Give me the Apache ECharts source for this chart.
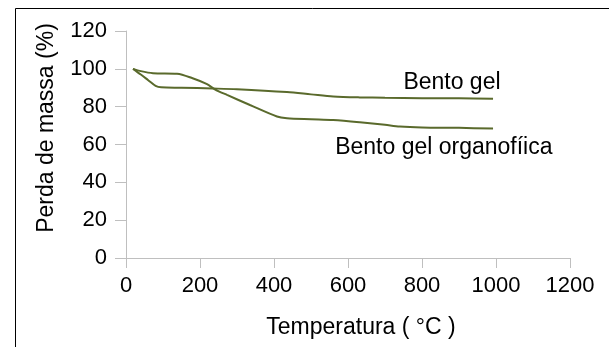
<!DOCTYPE html>
<html>
<head>
<meta charset="utf-8">
<script src="https://cdn.jsdelivr.net/npm/echarts@6/dist/echarts.min.js"></script>
<style>html,body{margin:0;padding:0;background:#fff;}#c{width:609px;height:347px;}</style>
</head>
<body>
<div id="c"></div>
<script>
var bentoGelT   = [19, 40, 60, 80, 95, 150, 235, 300, 435, 500, 560, 632, 700, 800, 900, 992];
var bentoGelV   = [100, 97, 94, 91, 90.2, 90, 89.6, 89.2, 87.7, 86.5, 85.4, 84.9, 84.7, 84.5, 84.4, 84.2];
var organoT     = [19, 40, 73, 138, 180, 219, 240, 273, 335, 408, 435, 500, 560, 632, 700, 740, 800, 900, 992];
var organoV     = [100, 98.8, 97.7, 97.4, 95, 91.9, 89.2, 86.2, 80.9, 74.8, 73.9, 73.4, 73, 71.8, 70.4, 69.5, 69, 68.8, 68.4];
var xTicks = [0, 200, 400, 600, 800, 1000, 1200];
var yTicks = [0, 20, 40, 60, 80, 100, 120];
var seriesNames = ['Bento gel', 'Bento gel organofíica'];
var labelPos = [[881, 92.6], [859, 58.2]];

function pairs(t, v) { return t.map(function (x, i) { return [x, v[i]]; }); }

var FONT = 'Liberation Sans';
var lineColor = '#5a6a2c';
var chart = echarts.init(document.getElementById('c'));
chart.setOption({
  animation: false,
  grid: { left: 126, right: 39, top: 31, bottom: 89 },
  xAxis: {
    type: 'value', min: xTicks[0], max: xTicks[xTicks.length - 1], interval: 200,
    splitLine: { show: false },
    axisLine: { show: true, lineStyle: { color: '#bfbfbf', width: 1 } },
    axisTick: { show: true, length: 10, lineStyle: { color: '#bfbfbf' } },
    axisLabel: { color: '#000', fontFamily: FONT, fontSize: 22, margin: 17, formatter: function (v) { return String(v); } }
  },
  yAxis: {
    type: 'value', min: yTicks[0], max: yTicks[yTicks.length - 1], interval: 20,
    splitLine: { show: false },
    axisLine: { show: true, lineStyle: { color: '#bfbfbf', width: 1 } },
    axisTick: { show: true, length: 11, lineStyle: { color: '#bfbfbf' } },
    axisLabel: { color: '#000', fontFamily: FONT, fontSize: 22, margin: 19, formatter: function (v) { return String(v); } }
  },
  series: [
    {
      name: seriesNames[0], type: 'line', showSymbol: false, smooth: 0.3,
      data: pairs(bentoGelT, bentoGelV),
      lineStyle: { color: lineColor, width: 2 },
      markPoint: {
        symbol: 'circle', symbolSize: 0,
        label: { show: true, position: 'inside', formatter: seriesNames[0], color: '#000', fontFamily: FONT, fontSize: 23 },
        data: [{ coord: labelPos[0] }]
      }
    },
    {
      name: seriesNames[1], type: 'line', showSymbol: false, smooth: 0.3,
      data: pairs(organoT, organoV),
      lineStyle: { color: lineColor, width: 2 },
      markPoint: {
        symbol: 'circle', symbolSize: 0,
        label: { show: true, position: 'inside', formatter: seriesNames[1], color: '#000', fontFamily: FONT, fontSize: 23 },
        data: [{ coord: labelPos[1] }]
      }
    }
  ],
  graphic: [
    { type: 'rect', shape: { x: 15.5, y: 8.5, width: 800, height: 500 }, style: { fill: 'none', stroke: '#000', lineWidth: 1 }, silent: true },
    { type: 'text', x: 47, y: 128, rotation: Math.PI / 2, style: { text: 'Perda de massa (%)', fontFamily: FONT, fontSize: 23, fill: '#000', align: 'center', verticalAlign: 'middle' } },
    { type: 'text', x: 361, y: 328, style: { text: 'Temperatura ( °C )', fontFamily: FONT, fontSize: 23, fill: '#000', align: 'center', verticalAlign: 'middle' } }
  ]
});
</script>
</body>
</html>
